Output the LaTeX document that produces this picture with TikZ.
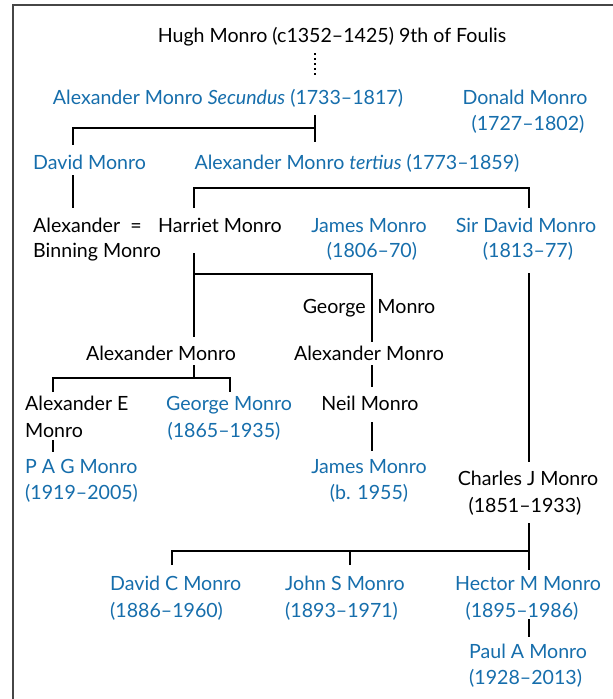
\documentclass[tikz,border=0pt]{standalone}
\usepackage{fontspec}
\setmainfont{Lato}
\definecolor{mblue}{RGB}{22,110,172}
\definecolor{frame}{RGB}{70,70,70}
\tikzset{
  nm/.style={inner sep=0pt, font=\fontsize{19.6}{23}\selectfont, text=black},
  bl/.style={nm, text=mblue},
  conn/.style={line width=1.6pt, black},
}
\begin{document}
\begin{tikzpicture}[x=1pt,y=-1pt]
\useasboundingbox (0,0) rectangle (613,699);
\fill[white] (0,0) rectangle (613,699);
\draw[frame, line width=2pt] (13,699) -- (13,5) -- (613,5);
% texts
\node[nm, anchor=base] (hugh) at (332,42) {Hugh Monro (c1352–1425) 9th of Foulis};
\node[bl, anchor=base] (sec) at (228,104) {Alexander Monro \textit{Secundus} (1733–1817)};
\node[bl, anchor=base] (don) at (525,104) {Donald Monro};
\node[bl, anchor=base] (dond) at (528,130) {(1727–1802)};
\node[bl, anchor=base west] (davm) at (33,169) {David Monro};
\node[bl, anchor=base] (ter) at (357,169) {Alexander Monro \textit{tertius} (1773–1859)};
\node[nm, anchor=base west] (alexb) at (33,232) {Alexander};
\node[nm, anchor=base west] (alexbb) at (33,257) {Binning Monro};
\node[nm, anchor=base] (eq) at (136,232) {=};
\node[nm, anchor=base west] (har) at (158,232) {Harriet Monro};
\node[bl, anchor=base] (jam) at (369,232) {James Monro};
\node[bl, anchor=base] (jamd) at (372,257) {(1806–70)};
\node[bl, anchor=base] (sird) at (526,232) {Sir David Monro};
\node[bl, anchor=base] (sirdd) at (528,257) {(1813–77)};
\node[nm, anchor=base] (geo) at (369,313) {George\hspace{0.6em}Monro};
\node[nm, anchor=base] (alexl) at (161,360) {Alexander Monro};
\node[nm, anchor=base] (alexm) at (369,360) {Alexander Monro};
\node[nm, anchor=base west] (alexe) at (25,410) {Alexander E};
\node[nm, anchor=base west] (alexee) at (25,437) {Monro};
\node[bl, anchor=base] (geob) at (229,410) {George Monro};
\node[bl, anchor=base] (geobd) at (224,437) {(1865–1935)};
\node[nm, anchor=base] (neil) at (370,410) {Neil Monro};
\node[bl, anchor=base west] (pag) at (25,473) {P A G Monro};
\node[bl, anchor=base west] (pagd) at (25,499) {(1919–2005)};
\node[bl, anchor=base] (jamb) at (369,473) {James Monro};
\node[bl, anchor=base] (jambd) at (369,499) {(b. 1955)};
\node[nm, anchor=base] (cha) at (528,485) {Charles J Monro};
\node[nm, anchor=base] (chad) at (525,512) {(1851–1933)};
\node[bl, anchor=base west] (davc) at (110,590) {David C Monro};
\node[bl, anchor=base west] (davcd) at (110,617) {(1886–1960)};
\node[bl, anchor=base west] (john) at (285,590) {John S Monro};
\node[bl, anchor=base west] (johnd) at (285,617) {(1893–1971)};
\node[bl, anchor=base] (hec) at (528,590) {Hector M Monro};
\node[bl, anchor=base] (hecd) at (522,617) {(1895–1986)};
\node[bl, anchor=base west] (paul) at (469,658) {Paul A Monro};
\node[bl, anchor=base west] (pauld) at (469,684) {(1928–2013)};
% junction coordinates
\coordinate (dtop) at (315,53);
\coordinate (dbot) at (315,77);
\coordinate (t1) at (315,115);
\coordinate (t2) at (315,142);
\coordinate (t3) at (315,128);
\coordinate (t4) at (73,145);
\coordinate (d1) at (73,175);
\coordinate (d2) at (73,208);
\coordinate (b1) at (194,208);
\coordinate (b2) at (529,208);
\coordinate (b0) at (194,188);
\coordinate (h1) at (194,253);
\coordinate (h2) at (194,337);
\coordinate (h3) at (194,274);
\coordinate (g2) at (372,342);
\coordinate (s1) at (529,273);
\coordinate (s2) at (529,462);
\coordinate (a1) at (194,365);
\coordinate (a2) at (194,378);
\coordinate (a3) at (53,392);
\coordinate (a4) at (230,392);
\coordinate (m1) at (372,365);
\coordinate (m2) at (372,387);
\coordinate (n1) at (372,422);
\coordinate (n2) at (372,451);
\coordinate (e1) at (53,440);
\coordinate (e2) at (53,452);
\coordinate (c1) at (529,523);
\coordinate (c2) at (529,570);
\coordinate (c3) at (529,551);
\coordinate (c4) at (172,565);
\coordinate (c5) at (350,565);
\coordinate (p1) at (529,619);
\coordinate (p2) at (529,637);
% connectors
\draw[line width=1.6pt, dash pattern=on 1.6pt off 3.4pt] (dtop) -- (dbot);
\draw[conn] (t1) -- (t2);
\draw[conn] (t3) -| (t4);
\draw[conn] (d1) -- (d2);
\draw[conn] (b1) |- (b0) -| (b2);
\draw[conn] (h1) -- (h2);
\draw[conn] (h3) -| (g2);
\draw[conn] (s1) -- (s2);
\draw[conn] (a1) -- (a2);
\draw[conn] (a3) |- (a2) -| (a4);
\draw[conn] (m1) -- (m2);
\draw[conn] (n1) -- (n2);
\draw[conn] (e1) -- (e2);
\draw[conn] (c1) -- (c2);
\draw[conn] (c4) |- (c3);
\draw[conn] (c5) -- (c5 |- c3);
\draw[conn] (p1) -- (p2);
\end{tikzpicture}
\end{document}
